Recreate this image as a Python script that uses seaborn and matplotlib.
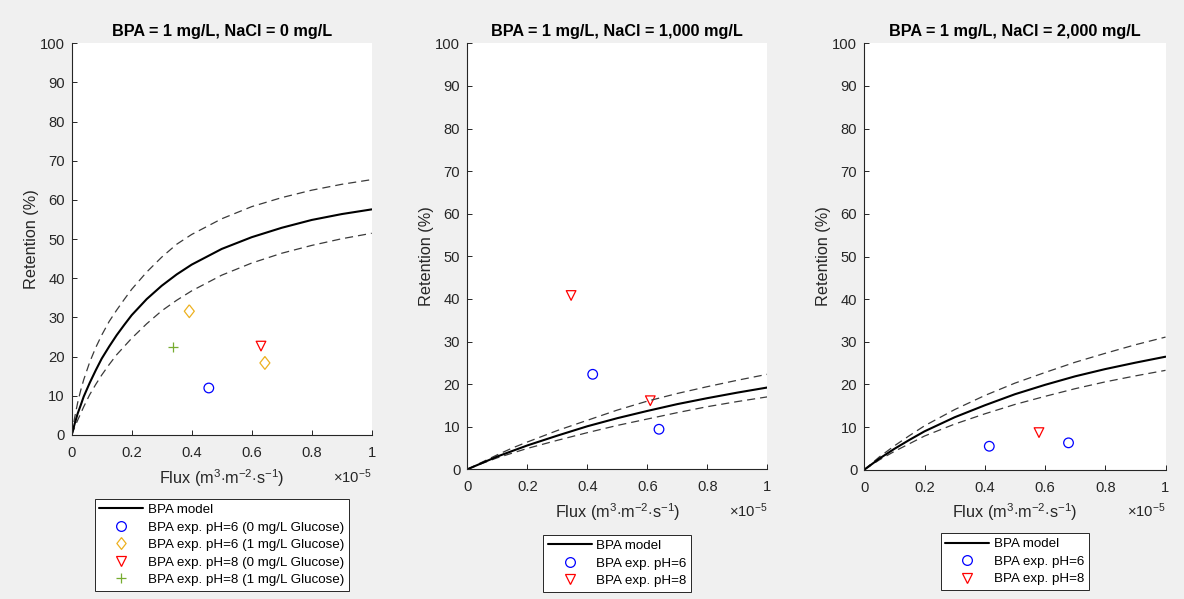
import matplotlib
matplotlib.use("Agg")
import matplotlib.pyplot as plt
from matplotlib.lines import Line2D
from matplotlib.ticker import FuncFormatter, MultipleLocator
import pandas as pd
import seaborn as sns

sns.set_theme(style="white")
plt.rcParams["font.family"] = ["Liberation Sans", "DejaVu Sans"]
plt.rcParams["mathtext.fontset"] = "custom"
plt.rcParams["mathtext.rm"] = "Liberation Sans"
plt.rcParams["mathtext.it"] = "Liberation Sans:italic"
plt.rcParams["mathtext.bf"] = "Liberation Sans:bold"

# ---- data (flux in units of 1e-5 m3 m-2 s-1, retention in %) ----
flux_p1 = [0, .01, .02, .03, .04, .06, .08, .10, .125, .15, .175, .20, .25,
           .30, .35, .40, .50, .60, .70, .80, .90, 1.0]
model_p1 = [0, 2.9, 5.5, 7.6, 9.8, 13.3, 16.5, 19.5, 22.6, 25.5, 28.1, 30.6,
            34.7, 38.1, 41.0, 43.5, 47.5, 50.5, 52.9, 54.9, 56.4, 57.6]
upper_p1 = [0, 4.5, 8.3, 11.4, 14.1, 18.6, 22.3, 25.5, 29.0, 31.9, 34.6, 37.2,
            41.6, 45.4, 48.7, 51.2, 55.2, 58.3, 60.6, 62.5, 64.0, 65.2]
lower_p1 = [0, 2.0, 3.8, 5.5, 7.2, 10.3, 12.9, 15.3, 18.0, 20.5, 22.6, 24.7,
            28.4, 31.7, 34.4, 36.8, 40.8, 43.9, 46.4, 48.4, 50.1, 51.5]

flux_p23 = [0, .05, .10, .15, .20, .30, .40, .50, .60, .70, .80, .90, 1.0]
model_p2 = [0, 1.5, 3.0, 4.3, 5.6, 7.9, 10.1, 12.0, 13.7, 15.3, 16.7, 18.0, 19.2]
upper_p2 = [0, 1.7, 3.4, 5.0, 6.4, 9.1, 11.5, 13.9, 16.0, 17.8, 19.4, 20.9, 22.3]
lower_p2 = [0, 1.4, 2.7, 3.8, 4.9, 6.8, 8.6, 10.3, 11.8, 13.3, 14.7, 15.9, 17.0]
model_p3 = [0, 2.6, 4.9, 7.0, 9.0, 12.3, 15.1, 17.7, 19.9, 21.9, 23.6, 25.1, 26.5]
upper_p3 = [0, 3.0, 5.6, 8.0, 10.3, 14.1, 17.4, 20.3, 22.8, 25.2, 27.3, 29.3, 31.1]
lower_p3 = [0, 2.3, 4.3, 6.1, 7.9, 10.7, 13.1, 15.3, 17.2, 19.0, 20.6, 22.0, 23.3]

# experimental points: (flux, retention)
p1_ph6_g0_flux, p1_ph6_g0_ret = [0.457], [12.0]
p1_ph6_g1_flux, p1_ph6_g1_ret = [0.392, 0.644], [31.6, 18.4]
p1_ph8_g0_flux, p1_ph8_g0_ret = [0.631], [22.7]
p1_ph8_g1_flux, p1_ph8_g1_ret = [0.339], [22.4]
p2_ph6_flux, p2_ph6_ret = [0.418, 0.639], [22.3, 9.4]
p2_ph8_flux, p2_ph8_ret = [0.346, 0.610], [40.8, 16.1]
p3_ph6_flux, p3_ph6_ret = [0.415, 0.678], [5.5, 6.3]
p3_ph8_flux, p3_ph8_ret = [0.580], [8.7]

titles = ["BPA = 1 mg/L, NaCl = 0 mg/L",
          "BPA = 1 mg/L, NaCl = 1,000 mg/L",
          "BPA = 1 mg/L, NaCl = 2,000 mg/L"]

# ---- styling ----
BLUE = (0.0, 0.0, 1.0)
ORANGE = (0.929, 0.694, 0.125)
RED = (1.0, 0.0, 0.0)
GREEN = (0.466, 0.674, 0.188)
AXC = "#262626"
DIAMOND = [(0, 1), (0.78, 0), (0, -1), (-0.78, 0), (0, 1)]

W, H = 1184, 599
fig = plt.figure(figsize=(W / 100, H / 100), dpi=100, facecolor="#f0f0f0")


def px_axes(left, top, right, bottom):
    return fig.add_axes([left / W, 1 - bottom / H, (right - left) / W, (bottom - top) / H])


axes = [px_axes(71.7, 43.3, 371.7, 435.0),
        px_axes(467.3, 43.3, 767.3, 469.3),
        px_axes(864.3, 43.3, 1165.5, 469.7)]

curves = [(flux_p1, model_p1, upper_p1, lower_p1),
          (flux_p23, model_p2, upper_p2, lower_p2),
          (flux_p23, model_p3, upper_p3, lower_p3)]

points = [
    [(p1_ph6_g0_flux, p1_ph6_g0_ret, "o", BLUE, 48, 7.0),
     (p1_ph6_g1_flux, p1_ph6_g1_ret, DIAMOND, ORANGE, 85, 8.5),
     (p1_ph8_g0_flux, p1_ph8_g0_ret, "v", RED, 48, 7.0),
     (p1_ph8_g1_flux, p1_ph8_g1_ret, "+", GREEN, 55, 7.5)],
    [(p2_ph6_flux, p2_ph6_ret, "o", BLUE, 48, 7.0),
     (p2_ph8_flux, p2_ph8_ret, "v", RED, 48, 7.0)],
    [(p3_ph6_flux, p3_ph6_ret, "o", BLUE, 48, 7.0),
     (p3_ph8_flux, p3_ph8_ret, "v", RED, 48, 7.0)],
]

legend_labels = [
    ["BPA model", "BPA exp. pH=6 (0 mg/L Glucose)", "BPA exp. pH=6 (1 mg/L Glucose)",
     "BPA exp. pH=8 (0 mg/L Glucose)", "BPA exp. pH=8 (1 mg/L Glucose)"],
    ["BPA model", "BPA exp. pH=6", "BPA exp. pH=8"],
    ["BPA model", "BPA exp. pH=6", "BPA exp. pH=8"],
]
legend_tops = [499.0, 535.0, 533.3]

for ax, title, (fx, mod, up, lo), pts, labels, ltop in zip(
        axes, titles, curves, points, legend_labels, legend_tops):
    df = pd.DataFrame({"flux": fx, "model": mod, "upper": up, "lower": lo})
    for col in ("upper", "lower"):
        sns.lineplot(data=df, x="flux", y=col, ax=ax, color="#3a3a3a", lw=0.9,
                     linestyle=(0, (6.5, 4)), sort=False, estimator=None)
    sns.lineplot(data=df, x="flux", y="model", ax=ax, color="black", lw=1.5,
                 sort=False, estimator=None)

    handles = [Line2D([], [], color="black", lw=1.5)]
    for (xs, ys, mk, col, size, msize) in pts:
        if mk == "+":
            sns.scatterplot(x=xs, y=ys, ax=ax, marker="+", s=size, color=col,
                            linewidth=0.9)
            handles.append(Line2D([], [], ls="none", marker="+", color=col,
                                  markersize=msize, markeredgewidth=0.9))
        else:
            sns.scatterplot(x=xs, y=ys, ax=ax, marker=mk, s=size,
                            facecolor="none", edgecolor=col, linewidth=0.9)
            handles.append(Line2D([], [], ls="none", marker=mk, markersize=msize,
                                  markerfacecolor="none", markeredgecolor=col,
                                  markeredgewidth=0.9))

    ax.set_xlim(0, 1)
    ax.set_ylim(0, 100)
    ax.xaxis.set_major_locator(MultipleLocator(0.2))
    ax.yaxis.set_major_locator(MultipleLocator(10))
    ax.xaxis.set_major_formatter(FuncFormatter(lambda v, p: f"{v:g}"))
    ax.yaxis.set_major_formatter(FuncFormatter(lambda v, p: f"{v:g}"))
    ax.set_facecolor("white")
    for s in ("top", "right"):
        ax.spines[s].set_visible(False)
    for s in ("left", "bottom"):
        ax.spines[s].set_color(AXC)
        ax.spines[s].set_linewidth(0.8)
    ax.tick_params(direction="in", length=3.5, width=0.7, colors=AXC,
                   labelsize=10.6, left=True, bottom=True)
    ax.tick_params(axis="x", pad=8)
    ax.tick_params(axis="y", pad=5)

    ax.set_title(title, fontsize=11.7, fontweight="bold", color="black", pad=5)
    ax.set_xlabel(r"Flux (m$^3$$\cdot$m$^{-2}$$\cdot$s$^{-1}$)", fontsize=11.7,
                  color=AXC, labelpad=5)
    ax.set_ylabel("Retention (%)", fontsize=11.7, color=AXC, labelpad=0.8)
    ax.annotate(r"$\times$10$^{-5}$", xy=(1, 0), xycoords="axes fraction",
                xytext=(0, -32), textcoords="offset pixels", ha="right", va="top",
                fontsize=10.6, color=AXC)

    bb = ax.get_position()
    cx = (bb.x0 + bb.x1) / 2
    leg = ax.legend(handles, labels, loc="upper center",
                    bbox_to_anchor=(cx, 1 - ltop / H), bbox_transform=fig.transFigure,
                    fontsize=9.6, frameon=True, fancybox=False, framealpha=1,
                    edgecolor=AXC, borderpad=0.35, labelspacing=0.39,
                    handlelength=3.3, handletextpad=0.35, borderaxespad=0)
    leg.get_frame().set_linewidth(0.7)
    for t in leg.get_texts():
        t.set_color("black")

fig.savefig("out.png", dpi=100, facecolor=fig.get_facecolor())
